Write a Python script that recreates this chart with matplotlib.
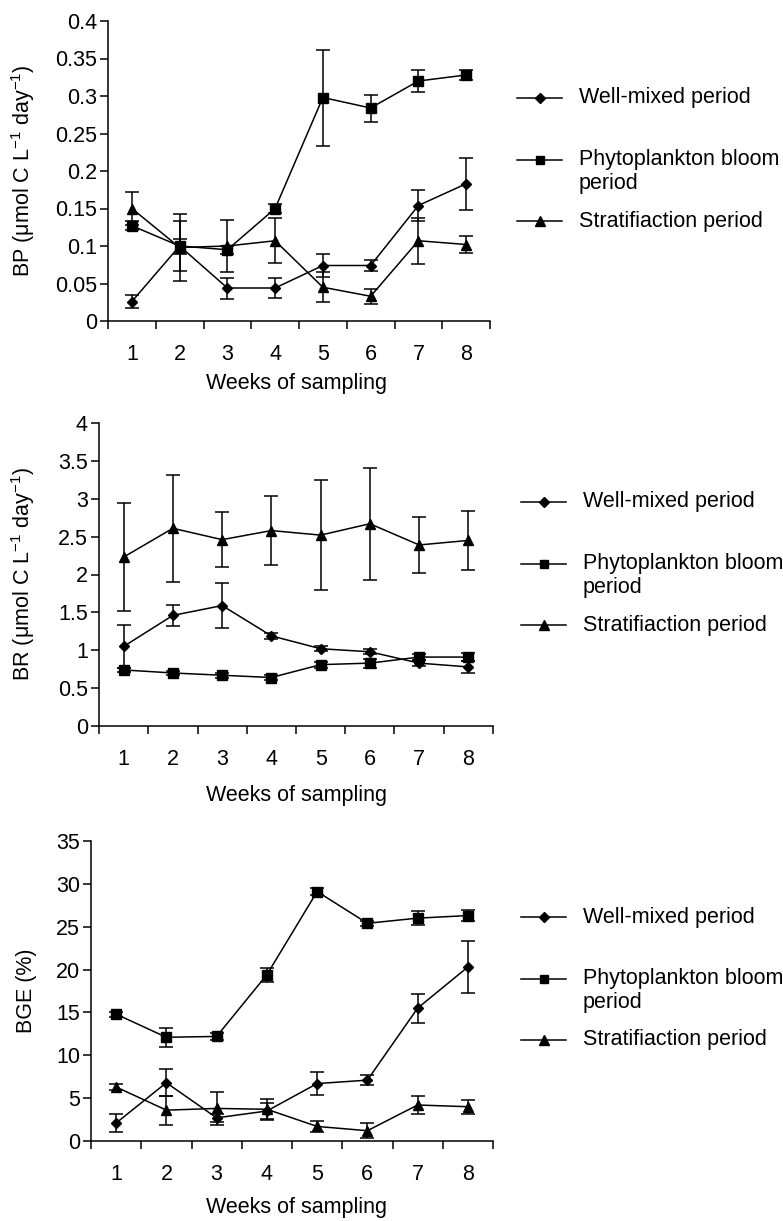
import numpy as np
import matplotlib
matplotlib.use('Agg')
import matplotlib.pyplot as plt
from matplotlib.lines import Line2D

plt.rcParams['font.family'] = ['Liberation Sans', 'DejaVu Sans']

weeks = [1, 2, 3, 4, 5, 6, 7, 8]
labels = ['Well-mixed period', 'Phytoplankton bloom\nperiod', 'Stratifiaction period']

# BP (umol C L-1 day-1)
bp_mixed = [0.026, 0.100, 0.044, 0.044, 0.074, 0.074, 0.154, 0.183]
bp_mixed_err = [0.009, 0.033, 0.014, 0.013, 0.015, 0.007, 0.021, 0.035]
bp_bloom = [0.127, 0.100, 0.095, 0.150, 0.298, 0.284, 0.320, 0.328]
bp_bloom_err = [0.006, 0.010, 0.005, 0.006, 0.064, 0.018, 0.015, 0.006]
bp_strat = [0.150, 0.098, 0.100, 0.107, 0.045, 0.033, 0.107, 0.102]
bp_strat_err = [0.022, 0.045, 0.035, 0.030, 0.020, 0.010, 0.031, 0.011]

# BR (umol C L-1 day-1)
br_mixed = [1.05, 1.46, 1.59, 1.19, 1.02, 0.98, 0.83, 0.78]
br_mixed_err = [0.28, 0.14, 0.30, 0.04, 0.03, 0.03, 0.04, 0.08]
br_bloom = [0.74, 0.70, 0.67, 0.64, 0.81, 0.83, 0.91, 0.91]
br_bloom_err = [0.03, 0.03, 0.03, 0.03, 0.04, 0.06, 0.04, 0.05]
br_strat = [2.23, 2.61, 2.46, 2.58, 2.52, 2.67, 2.39, 2.45]
br_strat_err = [0.71, 0.71, 0.36, 0.46, 0.73, 0.74, 0.37, 0.39]

# BGE (%)
bge_mixed = [2.1, 6.8, 2.7, 3.5, 6.7, 7.1, 15.5, 20.3]
bge_mixed_err = [1.1, 1.6, 0.5, 0.9, 1.3, 0.6, 1.7, 3.0]
bge_bloom = [14.8, 12.1, 12.2, 19.4, 29.1, 25.4, 26.0, 26.3]
bge_bloom_err = [0.3, 1.1, 0.4, 0.8, 0.4, 0.3, 0.8, 0.6]
bge_strat = [6.3, 3.6, 3.8, 3.7, 1.7, 1.2, 4.2, 4.0]
bge_strat_err = [0.4, 1.7, 1.9, 1.2, 0.6, 0.9, 1.1, 0.8]

W, H = 783, 1221
FS = 15.5
fig = plt.figure(figsize=(W / 100, H / 100), dpi=100)


def px_axes(l, t, r, b):
    return fig.add_axes([l / W, 1 - b / H, (r - l) / W, (b - t) / H])


panels = [
    dict(box=(108, 21, 490, 321), ylim=(0, 0.4), step=0.05,
         ylabel='BP (μmol C L$^{\\mathregular{-1}}$ day$^{\\mathregular{-1}}$)',
         data=[(bp_mixed, bp_mixed_err), (bp_bloom, bp_bloom_err), (bp_strat, bp_strat_err)],
         fmt=lambda v: ('%g' % round(v, 2)), leg=(517, 98), xl=383),
    dict(box=(99, 423, 493, 726), ylim=(0, 4), step=0.5,
         ylabel='BR (μmol C L$^{\\mathregular{-1}}$ day$^{\\mathregular{-1}}$)',
         data=[(br_mixed, br_mixed_err), (br_bloom, br_bloom_err), (br_strat, br_strat_err)],
         fmt=lambda v: ('%g' % round(v, 1)), leg=(521, 502), xl=795),
    dict(box=(91, 841, 493, 1141), ylim=(0, 35), step=5,
         ylabel='BGE (%)',
         data=[(bge_mixed, bge_mixed_err), (bge_bloom, bge_bloom_err), (bge_strat, bge_strat_err)],
         fmt=lambda v: ('%g' % round(v)), leg=(521, 917), xl=1208),
]

markers = ['D', 's', '^']
msizes = [5.5, 6.5, 7]

for p in panels:
    l, t, r, b = p['box']
    ax = px_axes(l, t, r, b)
    for (vals, errs), m, ms in zip(p['data'], markers, msizes):
        ax.errorbar(weeks, vals, yerr=errs, color='black', lw=1.1, marker=m, ms=ms,
                    capsize=5, elinewidth=1.1, capthick=1.1, clip_on=False)
    ax.set_xlim(0.5, 8.5)
    ax.set_ylim(*p['ylim'])
    yt = np.arange(p['ylim'][0], p['ylim'][1] + p['step'] / 2, p['step'])
    ax.set_yticks(yt)
    ax.set_yticklabels([p['fmt'](v) for v in yt])
    ax.set_xticks(np.arange(0.5, 9, 1))
    ax.set_xticklabels([])
    ax.set_xticks(weeks, minor=True)
    ax.set_xticklabels([str(w) for w in weeks], minor=True)
    ax.tick_params(axis='x', which='minor', length=0, pad=16.5, labelsize=FS)
    ax.tick_params(axis='x', which='major', length=6, width=1.1, direction='out')
    ax.tick_params(axis='y', length=6, width=1.1, direction='out', labelsize=FS, pad=2)
    for s in ['top', 'right']:
        ax.spines[s].set_visible(False)
    for s in ['left', 'bottom']:
        ax.spines[s].set_linewidth(1.1)
    ax.set_ylabel(p['ylabel'], fontsize=FS)
    ax.yaxis.set_label_coords((37 - l) / (r - l), 0.5)
    fig.text(297 / W, 1 - p['xl'] / H, 'Weeks of sampling',
             fontsize=FS, ha='center', va='center')

    # legend drawn by hand so the two-line label sits like the original
    lx, ly = p['leg']
    gaps = [0, 62, 123]
    for lab, m, ms, g in zip(labels, markers, msizes, gaps):
        y = 1 - (ly + g) / H
        fig.add_artist(Line2D([lx / W, (lx + 45) / W], [y, y], color='black', lw=1.1,
                              transform=fig.transFigure))
        fig.add_artist(Line2D([(lx + 22.5) / W], [y], color='black', marker=m, ms=ms - 0.5,
                              transform=fig.transFigure))
        if '\n' in lab:
            fig.text((lx + 62) / W, y + 11 / H, lab, fontsize=FS, ha='left', va='top',
                     linespacing=1.2)
        else:
            fig.text((lx + 62) / W, y, lab, fontsize=FS, ha='left', va='center')

plt.savefig('out.png', dpi=100)
